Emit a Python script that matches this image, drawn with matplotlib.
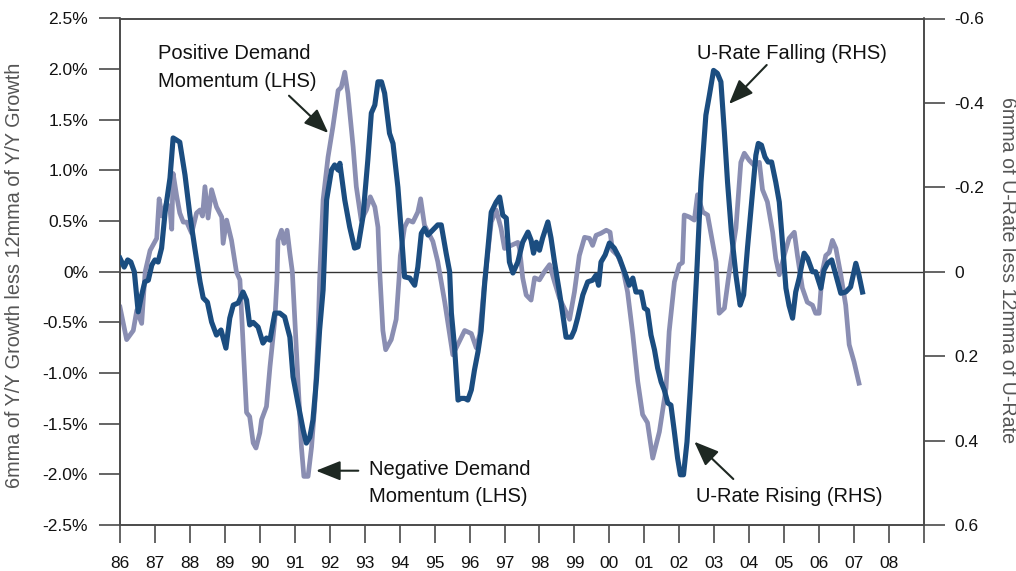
import matplotlib
matplotlib.use("Agg")
import matplotlib.pyplot as plt
from matplotlib.patches import ArrowStyle

plt.rcParams['font.family'] = ['Liberation Sans', 'DejaVu Sans']

# ---- data ----
demand_t = [1986.00, 1986.19, 1986.38, 1986.48, 1986.62, 1986.72, 1986.86, 1987.05, 1987.12, 1987.20,
            1987.33, 1987.43, 1987.48, 1987.52, 1987.62, 1987.71, 1987.81, 1987.91, 1988.05, 1988.19,
            1988.29, 1988.36, 1988.43, 1988.52, 1988.62, 1988.76, 1988.91, 1988.95, 1989.05, 1989.19,
            1989.33, 1989.43, 1989.62, 1989.71, 1989.81, 1989.89, 1990.00, 1990.05, 1990.19, 1990.29,
            1990.43, 1990.49, 1990.52, 1990.62, 1990.69, 1990.78, 1990.86, 1990.93, 1991.19, 1991.26,
            1991.38, 1991.48, 1991.57, 1991.67, 1991.71, 1991.81, 1991.95, 1992.09, 1992.24, 1992.33,
            1992.43, 1992.52, 1992.67, 1992.76, 1992.90, 1993.05, 1993.16, 1993.29, 1993.38, 1993.43,
            1993.52, 1993.60, 1993.76, 1993.90, 1993.98, 1994.02, 1994.14, 1994.24, 1994.38, 1994.52,
            1994.60, 1994.71, 1994.95, 1995.09, 1995.29, 1995.52, 1995.86, 1996.05, 1996.19, 1996.29,
            1996.43, 1996.62, 1996.76, 1996.90, 1997.00, 1997.19, 1997.38, 1997.43, 1997.52, 1997.62,
            1997.76, 1997.86, 1998.00, 1998.14, 1998.29, 1998.43, 1998.57, 1998.71, 1998.86, 1999.00,
            1999.14, 1999.29, 1999.43, 1999.52, 1999.62, 1999.76, 1999.91, 2000.02, 2000.09, 2000.24,
            2000.38, 2000.52, 2000.67, 2000.81, 2000.95, 2001.09, 2001.24, 2001.43, 2001.62, 2001.71,
            2001.86, 2002.00, 2002.09, 2002.14, 2002.29, 2002.43, 2002.52, 2002.67, 2002.81, 2002.95,
            2003.05, 2003.14, 2003.29, 2003.43, 2003.62, 2003.76, 2003.86, 2004.00, 2004.14, 2004.29,
            2004.38, 2004.52, 2004.67, 2004.76, 2004.86, 2005.00, 2005.14, 2005.29, 2005.38, 2005.52,
            2005.66, 2005.81, 2005.90, 2006.00, 2006.09, 2006.19, 2006.29, 2006.38, 2006.48, 2006.62,
            2006.76, 2006.86, 2007.00, 2007.14]
demand_v = [-0.35, -0.67, -0.58, -0.38, -0.51, 0.00, 0.21, 0.33, 0.72, 0.55,
            0.68, 0.62, 0.42, 0.97, 0.75, 0.58, 0.49, 0.49, 0.38, 0.58,
            0.61, 0.55, 0.84, 0.53, 0.81, 0.64, 0.54, 0.28, 0.51, 0.31,
            0.00, -0.08, -1.39, -1.43, -1.69, -1.74, -1.59, -1.46, -1.33, -0.94,
            -0.47, -0.08, 0.31, 0.41, 0.28, 0.41, 0.18, 0.00, -1.73, -2.02,
            -2.02, -1.73, -1.33, -0.58, -0.08, 0.71, 1.13, 1.43, 1.79, 1.82,
            1.97, 1.76, 1.23, 0.84, 0.51, 0.61, 0.74, 0.64, 0.44, 0.00,
            -0.58, -0.77, -0.67, -0.47, -0.08, 0.16, 0.44, 0.51, 0.49, 0.59,
            0.72, 0.46, 0.30, 0.10, -0.30, -0.82, -0.58, -0.61, -0.75, -0.62,
            -0.10, 0.49, 0.61, 0.43, 0.23, 0.26, 0.29, 0.23, -0.06, -0.23,
            -0.28, -0.06, -0.08, 0.00, 0.07, -0.10, -0.26, -0.36, -0.47, -0.20,
            0.16, 0.34, 0.33, 0.26, 0.36, 0.38, 0.41, 0.39, 0.21, 0.16,
            0.04, -0.20, -0.62, -1.08, -1.41, -1.49, -1.84, -1.58, -1.15, -0.59,
            -0.10, 0.07, 0.09, 0.56, 0.54, 0.51, 0.76, 0.59, 0.56, 0.29,
            0.10, -0.41, -0.36, 0.00, 0.43, 1.08, 1.17, 1.10, 1.05, 1.08,
            0.81, 0.69, 0.39, 0.13, -0.03, 0.16, 0.33, 0.39, 0.16, -0.16,
            -0.30, -0.33, -0.41, -0.41, 0.00, 0.16, 0.19, 0.31, 0.23, -0.03,
            -0.33, -0.72, -0.89, -1.10]

urate_t = [1986.00, 1986.12, 1986.22, 1986.31, 1986.41, 1986.52, 1986.62, 1986.71, 1986.81, 1986.91,
           1987.00, 1987.09, 1987.19, 1987.29, 1987.43, 1987.52, 1987.62, 1987.71, 1987.86, 1988.00,
           1988.14, 1988.29, 1988.38, 1988.50, 1988.62, 1988.76, 1988.89, 1989.03, 1989.14, 1989.24,
           1989.38, 1989.52, 1989.62, 1989.71, 1989.81, 1989.95, 1990.09, 1990.19, 1990.29, 1990.43,
           1990.57, 1990.71, 1990.86, 1990.95, 1991.09, 1991.24, 1991.33, 1991.43, 1991.52, 1991.62,
           1991.71, 1991.81, 1991.91, 1992.05, 1992.14, 1992.24, 1992.29, 1992.43, 1992.57, 1992.71,
           1992.81, 1992.95, 1993.09, 1993.19, 1993.29, 1993.38, 1993.48, 1993.57, 1993.71, 1993.81,
           1993.95, 1994.05, 1994.14, 1994.29, 1994.43, 1994.52, 1994.62, 1994.71, 1994.81, 1994.95,
           1995.09, 1995.19, 1995.33, 1995.43, 1995.48, 1995.57, 1995.67, 1995.76, 1995.86, 1995.95,
           1996.05, 1996.14, 1996.24, 1996.33, 1996.43, 1996.62, 1996.76, 1996.86, 1996.95, 1997.05,
           1997.14, 1997.24, 1997.38, 1997.52, 1997.67, 1997.76, 1997.83, 1997.91, 1998.00, 1998.09,
           1998.24, 1998.33, 1998.43, 1998.57, 1998.67, 1998.76, 1998.91, 1999.00, 1999.09, 1999.24,
           1999.38, 1999.52, 1999.62, 1999.69, 1999.76, 1999.88, 2000.00, 2000.14, 2000.29, 2000.43,
           2000.57, 2000.67, 2000.76, 2000.91, 2001.00, 2001.09, 2001.19, 2001.29, 2001.38, 2001.48,
           2001.57, 2001.67, 2001.76, 2001.86, 2001.95, 2002.03, 2002.12, 2002.22, 2002.31, 2002.41,
           2002.51, 2002.62, 2002.76, 2002.86, 2002.98, 2003.09, 2003.19, 2003.29, 2003.38, 2003.49,
           2003.62, 2003.74, 2003.84, 2003.95, 2004.07, 2004.19, 2004.26, 2004.35, 2004.45, 2004.54,
           2004.64, 2004.76, 2004.86, 2004.95, 2005.05, 2005.14, 2005.24, 2005.33, 2005.43, 2005.57,
           2005.67, 2005.81, 2005.90, 2006.05, 2006.14, 2006.24, 2006.36, 2006.48, 2006.62, 2006.76,
           2006.90, 2007.05, 2007.14, 2007.24]
urate_v = [-0.032, -0.011, -0.028, -0.023, 0.000, 0.095, 0.055, 0.024, 0.020, -0.016,
           -0.028, -0.023, -0.056, -0.141, -0.222, -0.317, -0.312, -0.307, -0.229, -0.134,
           -0.056, 0.024, 0.062, 0.072, 0.119, 0.150, 0.138, 0.181, 0.110, 0.079,
           0.074, 0.048, 0.067, 0.126, 0.120, 0.131, 0.169, 0.157, 0.162, 0.098,
           0.098, 0.107, 0.155, 0.249, 0.311, 0.375, 0.406, 0.392, 0.351, 0.256,
           0.138, 0.043, -0.170, -0.241, -0.253, -0.241, -0.257, -0.170, -0.106, -0.056,
           -0.059, -0.130, -0.265, -0.376, -0.395, -0.450, -0.450, -0.423, -0.328, -0.304,
           -0.200, -0.091, 0.012, 0.015, 0.032, -0.011, -0.091, -0.103, -0.087, -0.099,
           -0.111, -0.111, -0.044, 0.000, 0.098, 0.178, 0.304, 0.300, 0.300, 0.304,
           0.280, 0.233, 0.190, 0.140, 0.030, -0.141, -0.165, -0.177, -0.134, -0.127,
           -0.023, 0.003, -0.023, -0.070, -0.094, -0.075, -0.044, -0.070, -0.051, -0.080,
           -0.118, -0.080, -0.023, 0.048, 0.103, 0.155, 0.155, 0.138, 0.110, 0.055,
           0.024, 0.020, 0.008, 0.032, -0.023, -0.040, -0.068, -0.056, -0.032, 0.000,
           0.032, 0.015, 0.048, 0.048, 0.086, 0.091, 0.150, 0.185, 0.228, 0.261,
           0.280, 0.311, 0.316, 0.380, 0.441, 0.481, 0.481, 0.403, 0.285, 0.143,
           -0.016, -0.212, -0.371, -0.418, -0.477, -0.470, -0.450, -0.330, -0.212, -0.094,
           0.008, 0.079, 0.055, -0.056, -0.165, -0.276, -0.304, -0.300, -0.272, -0.260,
           -0.260, -0.212, -0.165, -0.070, 0.039, 0.080, 0.110, 0.048, 0.015, -0.044,
           -0.032, 0.000, 0.000, 0.039, -0.004, -0.020, -0.028, 0.008, 0.051, 0.048,
           0.036, -0.020, 0.008, 0.048]

year_ticks = list(range(1986, 2010))
year_labels = ['86', '87', '88', '89', '90', '91', '92', '93', '94', '95', '96', '97',
               '98', '99', '00', '01', '02', '03', '04', '05', '06', '07', '08', '']
left_ticks = [2.5, 2.0, 1.5, 1.0, 0.5, 0.0, -0.5, -1.0, -1.5, -2.0, -2.5]
left_labels = ['2.5%', '2.0%', '1.5%', '1.0%', '0.5%', '0%', '-0.5%', '-1.0%', '-1.5%', '-2.0%', '-2.5%']
right_ticks = [-0.6, -0.4, -0.2, 0.0, 0.2, 0.4, 0.6]
right_labels = ['-0.6', '-0.4', '-0.2', '0', '0.2', '0.4', '0.6']

# ---- styling ----
DARK = '#1b4d80'
LIGHT = '#8a8eb2'
SPINE = '#4a4a4a'
ARROW = '#1e2822'
W, H = 1016, 571

fig = plt.figure(figsize=(W / 100, H / 100), dpi=100)
ax = fig.add_axes([120 / W, (H - 525) / H, (924 - 120) / W, (525 - 18.5) / H])
ax2 = ax.twinx()

ax.plot(demand_t, demand_v, color=LIGHT, lw=3.4, solid_joinstyle='round', zorder=3)
ax2.plot(urate_t, urate_v, color=DARK, lw=3.7, solid_joinstyle='round', zorder=3)
ax.axhline(0, color='#333333', lw=1.0, zorder=2)

ax.set_xlim(1986, 2009)
ax.set_ylim(-2.5, 2.5)
ax2.set_ylim(0.6, -0.6)

ax.set_xticks(year_ticks)
ax.set_xticklabels(year_labels)
ax.set_yticks(left_ticks)
ax.set_yticklabels(left_labels)
ax2.set_yticks(right_ticks)
ax2.set_yticklabels(right_labels)

for a in (ax, ax2):
    for s in a.spines.values():
        s.set_color(SPINE)
        s.set_linewidth(1.2)

ax.tick_params(axis='y', direction='out', length=15, width=1.2, color=SPINE,
               labelsize=12.5, labelcolor='#111111', pad=8)
ax.tick_params(axis='x', direction='out', length=13, width=1.2, color=SPINE,
               labelsize=12.5, labelcolor='#111111', pad=9)
ax2.tick_params(axis='y', direction='out', length=15, width=1.2, color=SPINE,
                labelsize=12.5, labelcolor='#111111', pad=7)

fig.text(15 / W, 1 - 275 / H, '6mma of Y/Y Growth less 12mma of Y/Y Growth',
         rotation=90, ha='center', va='center', fontsize=14.3, color='#555555')
fig.text(1007 / W, 1 - 270 / H, '6mma of U-Rate less 12mma of U-Rate',
         rotation=-90, ha='center', va='center', fontsize=14.1, color='#555555')


def fp(x, y):
    return (x, H - y)


ann_fs = 14.5
for txt, x, y in [('Positive Demand', 158, 59), ('Momentum (LHS)', 158, 86.7),
                  ('U-Rate Falling (RHS)', 696.7, 59),
                  ('Negative Demand', 369.3, 475), ('Momentum (LHS)', 369.3, 501.7),
                  ('U-Rate Rising (RHS)', 696, 501.7)]:
    ax.annotate(txt, xy=fp(x, y), xycoords='figure pixels', ha='left', va='baseline',
                fontsize=ann_fs, color='#111111')

astyle = ArrowStyle('-|>', head_length=0.75, head_width=0.3)
for tail, head in [((289, 95.7), (328.3, 133)),
                   ((766.7, 65), (729, 104)),
                   ((358.3, 470.7), (316, 470.7)),
                   ((733.3, 479), (694.3, 441.7))]:
    ax.annotate('', xy=fp(*head), xycoords='figure pixels',
                xytext=fp(*tail), textcoords='figure pixels',
                arrowprops=dict(arrowstyle=astyle, mutation_scale=20, lw=1.5,
                                color=ARROW, shrinkA=0, shrinkB=0))

fig.savefig('out.png', dpi=100)
